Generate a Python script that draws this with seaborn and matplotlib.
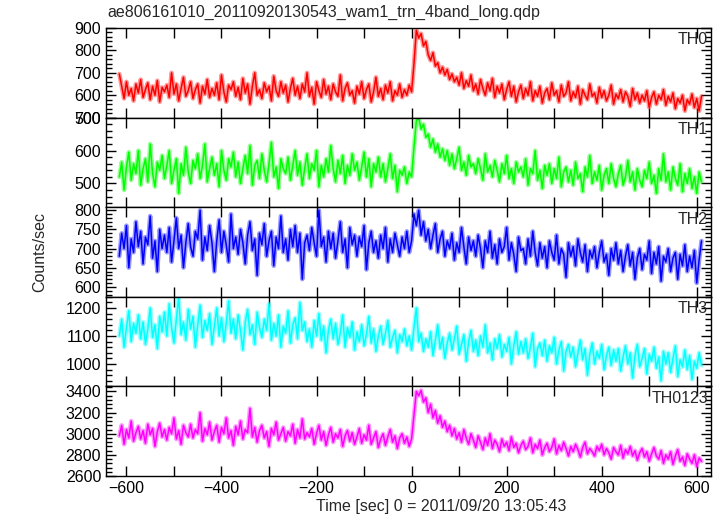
import numpy as np
import pandas as pd
import matplotlib
matplotlib.use("Agg")
import matplotlib.pyplot as plt
from matplotlib.ticker import MultipleLocator
import seaborn as sns

# ---------------- data (5-s bins) ----------------
time_start, time_step = -615, 5

th0 = [695, 640, 585, 660, 600, 630, 575, 650, 610, 670,
       590, 625, 655, 580, 640, 600, 665, 570, 635, 615,
       645, 590, 700, 605, 650, 575, 630, 680, 595, 620,
       660, 585, 625, 650, 565, 640, 605, 670, 590, 630,
       600, 655, 580, 690, 615, 570, 645, 625, 660, 595,
       635, 580, 675, 610, 650, 560, 640, 700, 600, 625,
       585, 655, 615, 640, 575, 685, 620, 595, 660, 610,
       645, 570, 630, 675, 600, 640, 585, 650, 615, 700,
       595, 635, 560, 660, 620, 590, 670, 605, 640, 580,
       650, 615, 595, 690, 575, 630, 655, 600, 620, 565,
       640, 605, 660, 585, 625, 650, 570, 615, 680, 595,
       630, 580, 645, 610, 660, 575, 620, 600, 650, 590,
       625, 600, 645, 615, 740, 890, 855, 875, 820, 840,
       780, 755, 790, 730, 745, 700, 725, 690, 715, 670,
       695, 660, 680, 645, 700, 630, 665, 640, 690, 620,
       650, 605, 670, 630, 600, 655, 620, 675, 590, 640,
       610, 650, 580, 625, 660, 595, 640, 570, 615, 645,
       585, 630, 600, 660, 575, 620, 595, 640, 565, 610,
       630, 580, 655, 600, 620, 570, 645, 595, 610, 660,
       575, 615, 590, 640, 560, 625, 600, 580, 650, 595,
       610, 565, 635, 590, 620, 575, 600, 645, 560, 605,
       585, 625, 570, 615, 595, 550, 630, 580, 610, 565,
       600, 575, 620, 545, 590, 615, 560, 600, 580, 625,
       555, 595, 570, 610, 540, 585, 565, 600, 530, 580,
       560, 605, 545, 585, 530, 595]

th1 = [520, 565, 480, 550, 595, 510, 560, 530, 600, 495,
       545, 575, 505, 620, 530, 490, 565, 540, 585, 515,
       555, 600, 500, 540, 575, 470, 560, 525, 610, 535,
       500, 570, 545, 590, 515, 555, 620, 505, 545, 580,
       525, 560, 490, 600, 540, 510, 575, 550, 595, 520,
       565, 500, 545, 585, 530, 615, 495, 555, 570, 515,
       590, 540, 505, 560, 625, 520, 550, 485, 575, 545,
       530, 580, 510, 555, 600, 525, 565, 495, 545, 590,
       515, 560, 540, 600, 490, 555, 520, 575, 535, 615,
       545, 505, 570, 530, 585, 500, 555, 525, 590, 540,
       565, 510, 550, 595, 520, 575, 490, 560, 535, 580,
       520, 560, 505, 545, 590, 515, 555, 475, 540, 525,
       550, 500, 535, 520, 610, 690, 700, 665, 680, 640,
       650, 610, 635, 595, 620, 580, 605, 570, 600, 555,
       590, 545, 575, 610, 540, 565, 525, 585, 550, 560,
       530, 575, 545, 510, 590, 535, 555, 520, 570, 540,
       505, 560, 530, 585, 515, 545, 500, 565, 535, 550,
       520, 575, 495, 545, 530, 600, 510, 540, 485, 555,
       525, 560, 500, 545, 515, 580, 490, 535, 550, 505,
       540, 495, 565, 515, 530, 475, 550, 520, 585, 500,
       535, 510, 555, 480, 525, 545, 500, 560, 515, 490,
       530, 555, 495, 520, 570, 505, 535, 480, 545, 510,
       490, 540, 515, 565, 500, 525, 470, 545, 510, 590,
       505, 535, 480, 550, 515, 495, 560, 475, 530, 500,
       545, 485, 520, 470, 535, 505]

th2 = [680, 740, 700, 760, 650, 725, 690, 770, 705, 745,
       660, 730, 710, 785, 675, 720, 640, 750, 700, 735,
       690, 755, 665, 720, 780, 700, 735, 650, 715, 765,
       705, 680, 745, 725, 800, 670, 730, 695, 760, 715,
       640, 720, 775, 690, 745, 710, 665, 790, 700, 730,
       685, 750, 715, 660, 735, 770, 695, 725, 630, 740,
       710, 765, 680, 720, 745, 655, 730, 700, 785, 690,
       725, 670, 750, 705, 760, 690, 740, 620, 715, 735,
       695, 755, 715, 680, 800, 705, 730, 665, 745, 700,
       740, 675, 720, 770, 690, 725, 650, 755, 710, 735,
       680, 730, 705, 760, 645, 715, 745, 690, 720, 675,
       735, 700, 755, 665, 725, 690, 740, 710, 680, 730,
       700, 745, 690, 720, 790, 760, 800, 735, 770, 720,
       750, 700, 735, 765, 690, 725, 745, 680, 720, 700,
       740, 670, 715, 690, 755, 705, 660, 730, 695, 720,
       680, 735, 700, 650, 720, 690, 745, 675, 710, 660,
       725, 690, 705, 755, 670, 715, 685, 640, 730, 695,
       700, 660, 725, 680, 745, 690, 655, 715, 675, 705,
       650, 720, 690, 670, 735, 660, 700, 685, 625, 715,
       680, 705, 655, 725, 690, 665, 710, 640, 695, 675,
       705, 650, 690, 720, 665, 685, 630, 700, 670, 715,
       660, 695, 640, 680, 710, 655, 690, 620, 675, 700,
       645, 685, 670, 720, 635, 690, 660, 705, 615, 680,
       665, 700, 640, 675, 690, 620, 685, 655, 710, 640,
       680, 650, 695, 610, 670, 720]

th3 = [1100, 1160, 1060, 1130, 1190, 1080, 1145, 1110, 1175, 1090,
       1150, 1070, 1125, 1200, 1095, 1140, 1055, 1170, 1115, 1185,
       1100, 1215, 1130, 1075, 1160, 1240, 1105, 1150, 1085, 1195,
       1125, 1170, 1060, 1140, 1210, 1095, 1155, 1120, 1180, 1070,
       1135, 1200, 1100, 1165, 1080, 1145, 1225, 1110, 1160, 1090,
       1175, 1120, 1050, 1150, 1195, 1105, 1140, 1070, 1185, 1130,
       1095, 1160, 1120, 1215, 1085, 1145, 1100, 1175, 1060, 1135,
       1110, 1190, 1075, 1140, 1165, 1090, 1220, 1120, 1150, 1080,
       1125, 1060, 1155, 1100, 1180, 1085, 1135, 1040, 1120, 1160,
       1090, 1145, 1070, 1110, 1175, 1060, 1130, 1095, 1150, 1050,
       1115, 1080, 1140, 1065, 1105, 1170, 1075, 1125, 1045, 1100,
       1135, 1070, 1110, 1155, 1060, 1095, 1120, 1040, 1105, 1080,
       1125, 1065, 1100, 1050, 1130, 1200, 1080, 1110, 1045, 1090,
       1060, 1115, 1030, 1085, 1140, 1055, 1095, 1020, 1075, 1110,
       1050, 1090, 1135, 1035, 1070, 1105, 1010, 1080, 1120, 1045,
       1085, 1030, 1100, 1060, 1140, 1040, 1075, 1015, 1090, 1055,
       1105, 1025, 1070, 1045, 1095, 1000, 1065, 1115, 1035, 1080,
       1040, 1090, 1020, 1060, 1110, 990, 1055, 1075, 1030, 1085,
       1010, 1065, 1040, 1095, 1000, 1050, 1080, 975, 1045, 1070,
       1025, 1060, 990, 1040, 1085, 1015, 1055, 960, 1035, 1075,
       1000, 1045, 1020, 1070, 980, 1030, 1060, 995, 1050, 1010,
       1055, 975, 1025, 1065, 1000, 1040, 950, 1030, 1070, 990,
       1020, 1055, 965, 1035, 1010, 1060, 985, 1025, 940, 1045,
       1000, 1040, 970, 1020, 1065, 955, 1015, 990, 1050, 980,
       1030, 945, 1010, 985, 1040, 995]

th0123 = [2980, 3080, 2900, 3040, 2960, 3120, 2930, 3010, 3070, 2950,
          3030, 2910, 3090, 2990, 3050, 2880, 3020, 3100, 2970, 3040,
          2940, 3060, 3000, 3150, 2950, 3030, 2900, 3080, 3010, 2970,
          3090, 2960, 3040, 3000, 3200, 2930, 3050, 2990, 3110, 2940,
          3020, 3080, 2920, 3060, 3000, 3150, 2960, 3030, 2890, 3070,
          2990, 3120, 2950, 3040, 3010, 3240, 2970, 3060, 2920, 3030,
          3080, 2960, 3020, 2880, 3050, 2990, 3110, 2940, 3000, 3060,
          2930, 3020, 2980, 3090, 2910, 3040, 2960, 3140, 2950, 3010,
          2970, 3050, 2900, 3000, 3080, 2940, 3020, 2890, 2990, 3060,
          2920, 3000, 2960, 3040, 2880, 2980, 3030, 2930, 3010, 2900,
          2970, 3050, 2910, 2990, 2940, 3080, 2900, 2960, 3020, 2870,
          2950, 3000, 2890, 2970, 3040, 2920, 2980, 2860, 2960, 3000,
          2910, 2970, 2880, 2950, 3180, 3400, 3360, 3410, 3300, 3340,
          3200, 3280, 3150, 3220, 3100, 3170, 3060, 3120, 3020, 3080,
          2980, 3050, 2950, 3010, 2920, 3040, 2960, 2900, 3000, 2940,
          2870, 2980, 2920, 2850, 2960, 2890, 3000, 2860, 2940, 2900,
          2830, 2950, 2880, 2920, 2840, 2970, 2870, 2910, 2820, 2890,
          2930, 2850, 2880, 2960, 2820, 2900, 2860, 2940, 2800, 2870,
          2910, 2830, 2870, 2950, 2810, 2890, 2840, 2920, 2860, 2790,
          2880, 2830, 2900, 2850, 2780, 2870, 2920, 2810, 2860, 2830,
          2790, 2880, 2840, 2900, 2800, 2860, 2820, 2760, 2870, 2830,
          2800, 2890, 2770, 2850, 2810, 2880, 2790, 2840, 2750, 2820,
          2860, 2780, 2830, 2740, 2810, 2870, 2790, 2760, 2840, 2720,
          2800, 2760, 2830, 2710, 2790, 2850, 2740, 2780, 2700, 2810,
          2760, 2720, 2800, 2690, 2770, 2740]

band_names = ["TH0", "TH1", "TH2", "TH3", "TH0123"]
band_values = [th0, th1, th2, th3, th0123]

title = "ae806161010_20110920130543_wam1_trn_4band_long.qdp"
xlabel = "Time [sec] 0 = 2011/09/20 13:05:43"
ylabel = "Counts/sec"

# ---------------- figure ----------------
sns.set_style("ticks")
plt.rcParams["font.family"] = ["Liberation Sans", "DejaVu Sans"]
plt.rcParams["font.size"] = 11.5

colors = ["#ff0000", "#00ff00", "#0000ff", "#00ffff", "#ff00ff"]
ylims = [(500, 900), (428, 700), (574, 808), (920, 1240), (2600, 3448)]
ymajor = [100, 100, 50, 100, 200]
yminor = [20, 20, 10, 20, 40]

fig = plt.figure(figsize=(7.19, 5.16), dpi=100)
left, right, top, bottom = 106 / 719, 711 / 719, 1 - 28 / 516, 1 - 476 / 516
h = (top - bottom) / 5

for i, (name, vals) in enumerate(zip(band_names, band_values)):
    ax = fig.add_axes([left, top - (i + 1) * h, right - left, h])
    t = time_start + time_step * np.arange(len(vals))
    df = pd.DataFrame({"t": t, "v": vals})
    sns.lineplot(data=df, x="t", y="v", ax=ax, color=colors[i], lw=3.2,
                 alpha=0.4, estimator=None)
    sns.lineplot(data=df, x="t", y="v", ax=ax, color=colors[i], lw=1.1,
                 estimator=None)
    ax.set_xlim(-643, 630)
    ax.set_ylim(*ylims[i])
    ax.xaxis.set_major_locator(MultipleLocator(200))
    ax.xaxis.set_minor_locator(MultipleLocator(100))
    ax.yaxis.set_major_locator(MultipleLocator(ymajor[i]))
    ax.yaxis.set_minor_locator(MultipleLocator(yminor[i]))
    ax.tick_params(which="both", direction="in", top=True, right=True,
                   colors="black", labelsize=11.5, width=1)
    ax.tick_params(which="major", length=7)
    ax.tick_params(which="minor", length=4)
    ax.tick_params(axis="x", which="minor", length=7)
    ax.set_xlabel("")
    ax.set_ylabel("")
    for s in ax.spines.values():
        s.set_color("black")
        s.set_linewidth(1.0)
    if i < 4:
        ax.set_xticklabels([])
    else:
        ax.set_xticks([-600, -400, -200, 0, 200, 400, 600])
        ax.set_xticklabels(["\u2212600", "\u2212400", "\u2212200", "0", "200", "400", "600"])
    ax.text(0.995, 0.95, name, transform=ax.transAxes, ha="right", va="top",
            fontsize=11.5)

fig.text(left + 0.002, 1 - 12 / 516, title, ha="left", va="center", fontsize=11.5)
fig.text(441 / 719, 1 - 507 / 516, xlabel, ha="center", va="center", fontsize=11.5)
fig.text(40 / 719, 1 - 252 / 516, ylabel, ha="center", va="center",
         rotation=90, fontsize=11.5)

fig.savefig("out.png", dpi=100, facecolor="white")
